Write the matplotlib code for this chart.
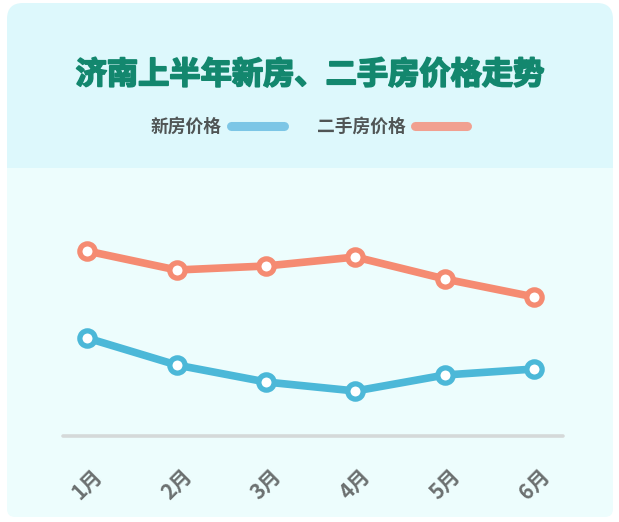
import matplotlib
matplotlib.use("Agg")
import matplotlib.pyplot as plt
import matplotlib.patheffects as pe
from matplotlib.patches import FancyBboxPatch, Rectangle
from matplotlib.lines import Line2D

plt.rcParams['font.family'] = ['Noto Sans CJK SC', 'DejaVu Sans']

# ---- data (relative price level) ----
months = ['1月', '2月', '3月', '4月', '5月', '6月']
new_price = [98, 71, 54, 45, 61, 67]
second_price = [185, 166, 170, 179, 157, 139]
series_names = ['新房价格', '二手房价格']
title = '济南上半年新房、二手房价格走势'

W, H = 619, 522
fig = plt.figure(figsize=(W / 100, H / 100), dpi=100)
fig.patch.set_facecolor('white')

def px(x, y):
    return x / 100, (H - y) / 100

tr = fig.dpi_scale_trans
head_c = '#ddf8fc'
body_c = '#edfdfd'
# card background (header colour), rounded
x0, y0 = px(7, 517)
card = FancyBboxPatch((x0, y0), 6.06, 5.14, boxstyle='round,pad=0,rounding_size=0.16',
                      transform=tr, fc=head_c, ec='none', zorder=-5)
fig.patches.append(card)
# body
bx, by = px(7, 517)
body = FancyBboxPatch((bx, by), 6.06, 3.49, boxstyle='round,pad=0,rounding_size=0.08',
                      transform=tr, fc=body_c, ec='none', zorder=-4)
fig.patches.append(body)
sq = Rectangle(px(7, 200), 6.06, 0.32, transform=tr, fc=body_c, ec='none', zorder=-4)
fig.patches.append(sq)

# title
title_c = '#13876e'
fig.text(310 / W, 1 - 75 / H, title, ha='center', va='center', fontsize=22.5,
         fontweight='heavy', color=title_c,
         path_effects=[pe.withStroke(linewidth=1.3, foreground=title_c)])

# legend (manual)
leg_text_c = '#505555'
sw_cols = ['#7cc6e6', '#f1a090']
fig.text(151 / W, 1 - 127 / H, series_names[0], ha='left', va='center', fontsize=12.8,
         color=leg_text_c, fontweight='bold')
fig.lines.append(Line2D([231 / W, 284 / W], [1 - 126 / H] * 2, transform=fig.transFigure,
                        color=sw_cols[0], lw=6.5, solid_capstyle='round'))
fig.text(317 / W, 1 - 127 / H, series_names[1], ha='left', va='center', fontsize=12.8,
         color=leg_text_c, fontweight='bold')
fig.lines.append(Line2D([415 / W, 467 / W], [1 - 126 / H] * 2, transform=fig.transFigure,
                        color=sw_cols[1], lw=6.5, solid_capstyle='round'))

# axes
ax_left, ax_right = 63, 563
ax_bottom, ax_top = 436, 200
ax = fig.add_axes([ax_left / W, 1 - ax_bottom / H, (ax_right - ax_left) / W,
                   (ax_bottom - ax_top) / H])
ax.set_facecolor('none')
ax.set_zorder(1)
x = list(range(len(months)))
ax.set_xlim(-0.27, 5.32)
ax.set_ylim(0, 236)

line_kw = dict(lw=5.5, marker='o', markersize=11, markeredgewidth=3.8,
               markerfacecolor='white', solid_capstyle='round', clip_on=False)
ax.plot(x, second_price, color='#f58b72', **line_kw)
ax.plot(x, new_price, color='#4cb8d8', **line_kw)

ax.plot([0, 1], [0, 0], transform=ax.transAxes, color='#d5d9d9', lw=2.6,
        solid_capstyle='round', clip_on=False)

for s in ax.spines.values():
    s.set_visible(False)
ax.set_yticks([])
ax.set_xticks(x)
ax.set_xticklabels(months, rotation=45, ha='center', va='center', fontsize=15,
                   fontweight='bold', color='#6b7070')
ax.tick_params(axis='x', length=0, pad=35)

fig.savefig('out.png', dpi=100, facecolor='white')
